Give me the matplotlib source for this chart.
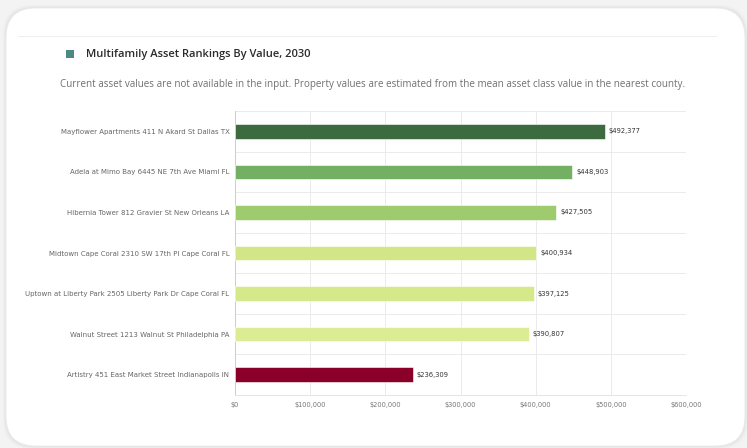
import numpy as np
import matplotlib.pyplot as plt
from matplotlib.patches import FancyBboxPatch, Rectangle
from matplotlib.ticker import FuncFormatter

properties = [
    "Mayflower Apartments 411 N Akard St Dallas TX",
    "Adela at Mimo Bay 6445 NE 7th Ave Miami FL",
    "Hibernia Tower 812 Gravier St New Orleans LA",
    "Midtown Cape Coral 2310 SW 17th Pl Cape Coral FL",
    "Uptown at Liberty Park 2505 Liberty Park Dr Cape Coral FL",
    "Walnut Street 1213 Walnut St Philadelphia PA",
    "Artistry 451 East Market Street Indianapolis IN",
]
values = [492377, 448903, 427505, 400934, 397125, 390807, 236309]
bar_colors = ["#3b6b3e", "#73b063", "#9ecb6d", "#d2e687", "#d5e88a", "#dbec94", "#8b0029"]
xticks = [0, 100000, 200000, 300000, 400000, 500000, 600000]

title = "Multifamily Asset Rankings By Value, 2030"
subtitle = ("Current asset values are not available in the input. Property values are "
            "estimated from the mean asset class value in the nearest county.")

W, H = 747, 448
fig = plt.figure(figsize=(W / 100, H / 100), dpi=100)
fig.patch.set_facecolor("#f3f3f3")

# card with soft shadow
for i, a in enumerate([0.015, 0.02, 0.025]):
    g = 3 - i
    fig.patches.append(FancyBboxPatch((6 / W - g / W, 1 - 446 / H - g / H),
                                      (739 + 2 * g) / W, (438 + 2 * g) / H,
                                      boxstyle="round,pad=0,rounding_size=0.04",
                                      transform=fig.transFigure, facecolor="black",
                                      edgecolor="none", alpha=a, mutation_aspect=W / H,
                                      zorder=-3))
fig.patches.append(FancyBboxPatch((6 / W, 1 - 446 / H), 739 / W, 438 / H,
                                  boxstyle="round,pad=0,rounding_size=0.04",
                                  transform=fig.transFigure, facecolor="white",
                                  edgecolor="#ebebeb", linewidth=0.6, mutation_aspect=W / H,
                                  zorder=-2))
fig.add_artist(plt.Line2D([18 / W, 716 / W], [1 - 36 / H, 1 - 36 / H],
                          color="#efefef", linewidth=0.8, zorder=-1))

fig.patches.append(Rectangle((66 / W, 1 - 58 / H), 8 / W, 8 / H,
                             transform=fig.transFigure, facecolor="#4a8a82", edgecolor="none"))
fig.text(86 / W, 1 - 54 / H, title, fontsize=8.0, fontweight="semibold",
         family="Open Sans", color="#2b2b2b", va="center", ha="left")
fig.text(373 / W, 1 - 84 / H, subtitle, fontsize=7.1, family="Open Sans",
         color="#707070", va="center", ha="center")

ax = fig.add_axes([235 / W, 1 - 395 / H, 451 / W, 284 / H])
ax.set_zorder(2)
ax.patch.set_alpha(0)
y = np.arange(len(properties))
ax.barh(y, values, height=0.36, color=bar_colors, edgecolor="white", linewidth=0.4, zorder=3)
for yi, v in zip(y, values):
    ax.text(v + 5000, yi, f"${v:,.0f}", fontsize=4.9, color="#333333",
            va="center", ha="left", zorder=4)

ax.set_ylim(len(properties) - 0.5, -0.5)
ax.set_xlim(0, 600000)
ax.set_xticks(xticks)
ax.xaxis.set_major_formatter(FuncFormatter(lambda v, p: f"${v:,.0f}"))
ax.set_yticks(y)
ax.set_yticklabels(properties)
ax.set_yticks(np.arange(len(properties) + 1) - 0.5, minor=True)
ax.tick_params(axis="y", which="major", length=0, labelsize=5.0, labelcolor="#666666", pad=4)
ax.tick_params(axis="y", which="minor", length=0)
ax.tick_params(axis="x", length=0, labelsize=4.8, labelcolor="#777777", pad=5)
ax.grid(axis="x", which="major", color="#e8e8e8", linewidth=0.6, zorder=0)
ax.grid(axis="y", which="minor", color="#e8e8e8", linewidth=0.6, zorder=0)
for s in ["top", "right"]:
    ax.spines[s].set_visible(False)
ax.spines["left"].set_color("#c8c8c8")
ax.spines["bottom"].set_color("#e0e0e0")
ax.spines["left"].set_linewidth(0.6)
ax.spines["bottom"].set_linewidth(0.6)

fig.savefig("out.png", dpi=100)
